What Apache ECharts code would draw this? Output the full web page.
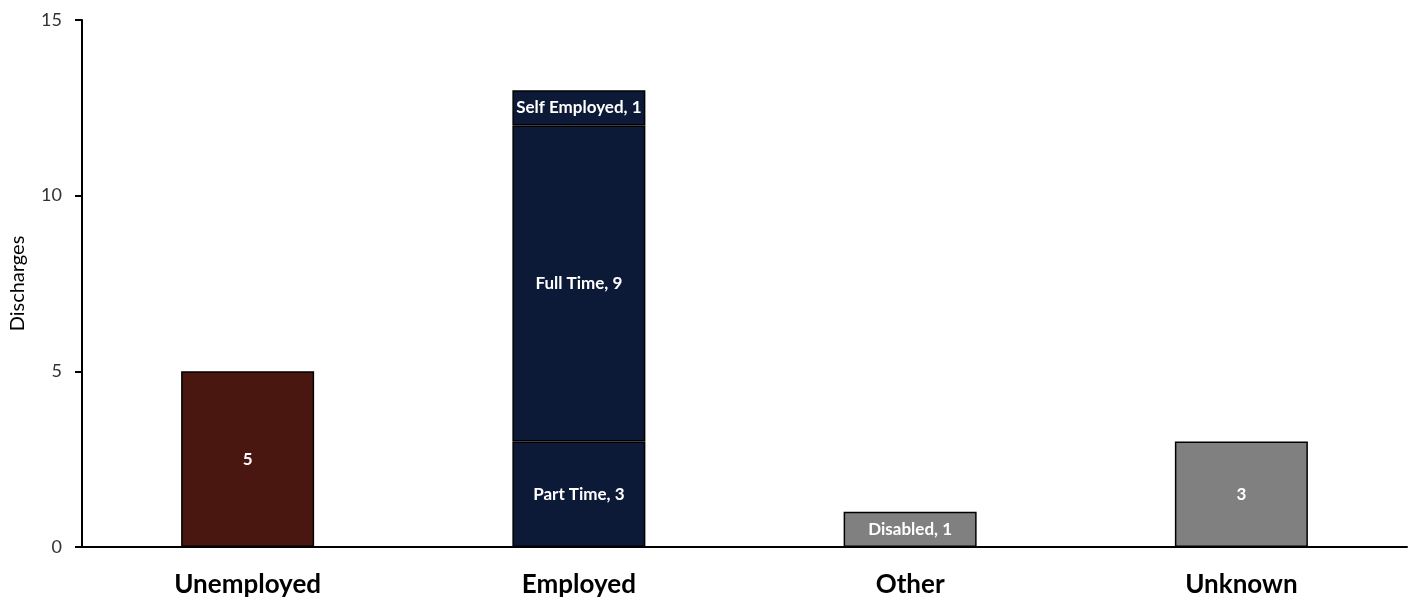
<!DOCTYPE html>
<html>
<head>
<meta charset="utf-8">
<script src="https://cdn.jsdelivr.net/npm/echarts@6/dist/echarts.min.js"></script>
<style>
  html, body { margin: 0; padding: 0; background: #fff; }
  #chart { width: 1413px; height: 600px; }
</style>
</head>
<body>
<div id="chart"></div>
<script>
// Discharges by employment status
const categories = ['Unemployed', 'Employed', 'Other', 'Unknown'];
const yTicks = { min: 0, max: 15, interval: 5 };

const unemployed   = [5, null, null, null];
const partTime     = [null, 3, null, null];
const fullTime     = [null, 9, null, null];
const selfEmployed = [null, 1, null, null];
const disabled     = [null, null, 1, null];
const unknown      = [null, null, null, 3];

const FONT = 'Lato, "Open Sans", sans-serif';

function segment(name, data, color, withName) {
  return {
    name: name,
    type: 'bar',
    stack: 'status',
    data: data,
    barWidth: 133,
    itemStyle: { color: color, borderColor: '#000', borderWidth: 1.5 },
    label: {
      show: true,
      position: 'inside',
      color: '#fff',
      fontFamily: FONT,
      fontWeight: 'bold',
      fontSize: 17,
      formatter: p => withName ? p.seriesName + ', ' + p.value : String(p.value)
    }
  };
}

const chart = echarts.init(document.getElementById('chart'));
chart.setOption({
  animation: false,
  grid: { left: 82, right: 6, top: 20, bottom: 53, containLabel: false, outerBoundsMode: 'none' },
  xAxis: {
    type: 'category',
    data: categories,
    axisLine: { lineStyle: { color: '#000', width: 2 } },
    axisTick: { show: false },
    axisLabel: { color: '#000', fontFamily: FONT, fontWeight: 'bold', fontSize: 26, margin: 25 }
  },
  yAxis: {
    type: 'value',
    min: yTicks.min,
    max: yTicks.max,
    interval: yTicks.interval,
    name: 'Discharges',
    nameLocation: 'middle',
    nameGap: 54,
    nameTextStyle: { color: '#000', fontFamily: FONT, fontSize: 20 },
    axisLine: { show: true, lineStyle: { color: '#000', width: 2 } },
    axisTick: { show: true, length: 7, lineStyle: { color: '#000', width: 2 } },
    axisLabel: { color: '#333', fontFamily: FONT, fontSize: 18, margin: 20 },
    splitLine: { show: false }
  },
  series: [
    segment('Unemployed', unemployed, '#4A1610', false),
    segment('Part Time', partTime, '#0C1A38', true),
    segment('Full Time', fullTime, '#0C1A38', true),
    segment('Self Employed', selfEmployed, '#0C1A38', true),
    segment('Disabled', disabled, '#808080', true),
    segment('Unknown', unknown, '#808080', false)
  ]
});
</script>
</body>
</html>
